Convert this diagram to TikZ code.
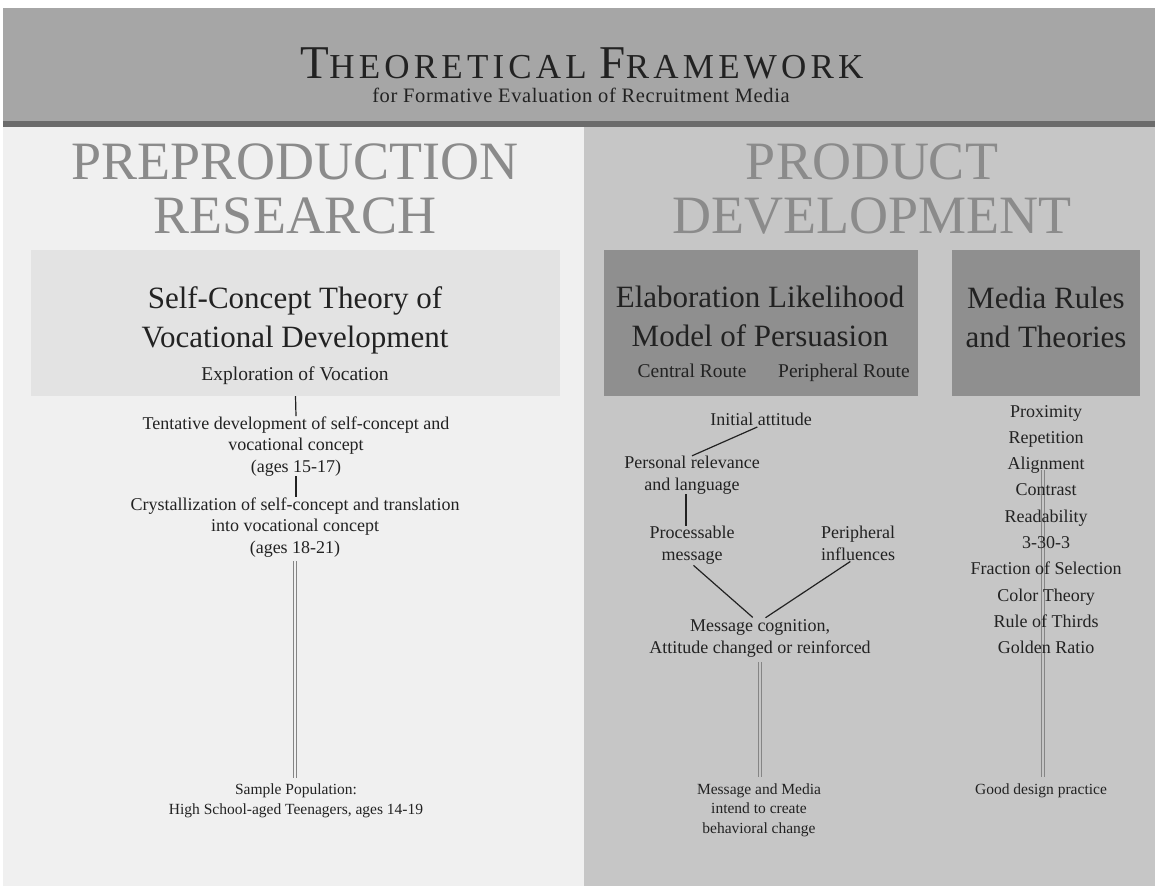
\documentclass[tikz,border=0pt]{standalone}
\usepackage{fontspec}
\setmainfont{Liberation Serif}
\newfontfamily\spacedfont[LetterSpace=12]{Liberation Serif}
\newfontfamily\subtitlefont[LetterSpace=3]{Liberation Serif}
\usepackage{tikz}
\usetikzlibrary{positioning,calc}

\definecolor{bandgray}{HTML}{A6A6A6}
\definecolor{rulegray}{HTML}{6B6B6B}
\definecolor{leftpanel}{HTML}{F0F0F0}
\definecolor{rightpanel}{HTML}{C6C6C6}
\definecolor{lightbox}{HTML}{E3E3E3}
\definecolor{darkbox}{HTML}{8F8F8F}
\definecolor{headgray}{HTML}{8B8B8B}
\definecolor{dblgray}{HTML}{858585}
\definecolor{ink}{HTML}{222222}

\newcommand{\fs}[2]{\fontsize{#1}{#2}\selectfont}
\newcommand{\bigsmall}[2]{{\fs{47}{47}#1}#2}

% multi-line nodes sit on the baseline of their last line
\tikzset{
    heading/.style={anchor=base, align=center, inner sep=0pt, text=headgray, font=\fs{54}{54}},
    boxtitle/.style={anchor=base, align=center, inner sep=0pt, text=ink, font=\fs{31}{39}},
    boxsub/.style={anchor=base, inner sep=0pt, text=ink, font=\fs{19.5}{24}},
    stage/.style={anchor=base, align=center, inner sep=0pt, text=ink, font=\fs{18}{21.5}},
    note/.style={anchor=base, align=center, inner sep=0pt, text=ink, font=\fs{15.5}{19.5}},
    theorybox/.style={rectangle, inner sep=0pt, minimum height=146pt},
    link/.style={draw=ink, line width=1.2pt},
    dbl/.style={draw=dblgray, line width=0.8pt, double=#1, double distance=1.5pt},
}

\begin{document}
\begin{tikzpicture}[x=1pt, y=-1pt]
    \useasboundingbox (0,0) rectangle (1155,886);

    % background bands
    \fill[bandgray] (3,8) rectangle (1155,121);
    \fill[rulegray] (3,121) rectangle (1155,127);
    \fill[leftpanel] (3,127) rectangle (584,886);
    \fill[rightpanel] (584,127) rectangle (1155,886);

    \node [anchor=base, inner sep=0pt, text=ink, font=\spacedfont\fs{35}{35}] (title) at (582,78) {\bigsmall{T}{HEORETICAL} \bigsmall{F}{RAMEWORK}};
    \node [anchor=base, inner sep=0pt, text=ink, font=\subtitlefont\fs{20.5}{24}] (subtitle) at (581,102) {for Formative Evaluation of Recruitment Media};

    \node [heading] (preproduction) at (295,233) {PREPRODUCTION\\RESEARCH};
    \node [heading] (development) at (872,233) {PRODUCT\\DEVELOPMENT};

    % theory boxes
    \node [theorybox, fill=lightbox, minimum width=529pt] (scbox) at (295.5,323) {};
    \node [theorybox, fill=darkbox, minimum width=314pt] (elmbox) at (761,323) {};
    \node [theorybox, fill=darkbox, minimum width=188pt] (mediabox) at (1046,323) {};

    \node [boxtitle] (sctitle) at (295,347) {Self-Concept Theory of\\Vocational Development};
    \node [boxsub] (exploration) at (295,380) {Exploration of Vocation};
    \node [boxtitle] (elmtitle) at (760,346) {Elaboration Likelihood\\Model of Persuasion};
    \node [boxsub] (central) at (692,377) {Central Route};
    \node [boxsub] (peripheral) at (844,377) {Peripheral Route};
    \node [boxtitle] (mediatitle) at (1046,347) {Media Rules\\and Theories};

    % preproduction column
    \node [stage] (tentative) at (296,472) {Tentative development of self-concept and\\vocational concept\\(ages 15-17)};
    \node [stage] (crystal) at (295,553) {Crystallization of self-concept and translation\\into vocational concept\\(ages 18-21)};
    \node [note] (sample) at (296,814) {Sample Population:\\High School-aged Teenagers, ages 14-19};

    % persuasion column
    \node [stage] (initial) at (761,425) {Initial attitude};
    \node [stage] (relevance) at (692,490) {Personal relevance\\and language};
    \node [stage] (processable) at (692,560) {Processable\\message};
    \node [stage] (influences) at (858,560) {Peripheral\\influences};
    \node [stage] (cognition) at (760,653) {Message cognition,\\Attitude changed or reinforced};
    \node [note] (behaviour) at (759,833) {Message and Media\\intend to create\\behavioral change};

    % media rules column
    \node [note] (practice) at (1041,794) {Good design practice};
    \coordinate (rulestop) at (1043,470);
    \draw [dbl=rightpanel, shorten >=6pt] (rulestop) -- (rulestop |- practice.north);
    \foreach \rulename [count=\i] in {Proximity, Repetition, Alignment, Contrast, Readability, 3-30-3, Fraction of Selection, Color Theory, Rule of Thirds, Golden Ratio}
        \node [stage] (rule\i) at (1046,{417+26.3*(\i-1)}) {\rulename};

    % connectors
    \draw [link] (scbox.south) -- (tentative.north);
    \draw [link] (tentative.south) -- (tentative.south |- crystal.north);
    \draw [dbl=leftpanel, shorten <=4pt, shorten >=6pt] (crystal.south) -- (crystal.south |- sample.north);

    \draw [link, shorten <=4pt] (initial.south) -- (relevance.north);
    \draw [link] ([xshift=-6pt]relevance.south) -- ([xshift=-6pt]processable.north);
    \draw [link, shorten <=2pt, shorten >=3pt] (processable.south) -- ([xshift=-5pt]cognition.north);
    \draw [link, shorten <=3pt, shorten >=2pt] ([xshift=3pt]cognition.north) -- ([xshift=-6pt]influences.south);
    \draw [dbl=rightpanel, shorten <=5pt, shorten >=6pt] (cognition.south) -- (cognition.south |- behaviour.north);
\end{tikzpicture}
\end{document}
